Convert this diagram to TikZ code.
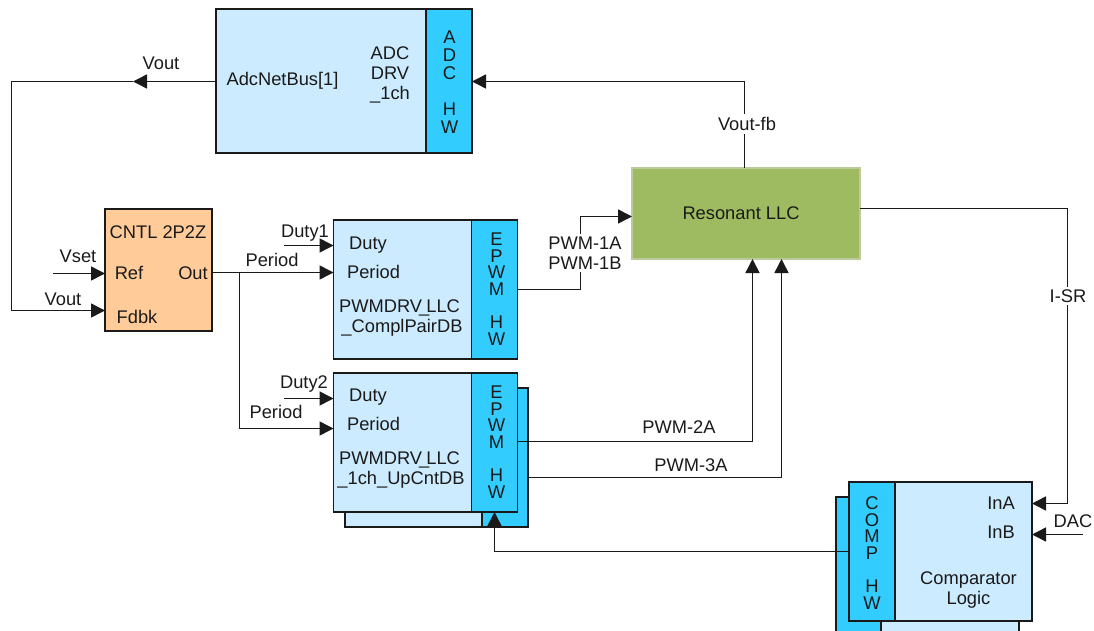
\documentclass[tikz,border=0pt]{standalone}
\usepackage{fontspec}
\setmainfont{Liberation Sans}
\usetikzlibrary{arrows.meta}
\definecolor{lightb}{HTML}{CCEBFF}
\definecolor{hwb}{HTML}{33CCFF}
\definecolor{orangeb}{HTML}{FFCC99}
\definecolor{greenb}{HTML}{9FBB62}
\definecolor{greenedge}{HTML}{BCCB9C}
\definecolor{ink}{HTML}{1A1A1A}
\newcommand{\under}{\kern-3pt\_\kern-3pt}
\tikzset{
  block/.style={draw=ink,line width=1.6pt,anchor=north west,inner sep=0pt,outer sep=0pt},
  drvbox/.style={block,fill=lightb},
  hwbox/.style={block,fill=hwb},
  ctlbox/.style={block,fill=orangeb},
  plant/.style={draw=greenedge,line width=1.5pt,fill=greenb,anchor=north west,inner sep=0pt,outer sep=0pt},
  txt/.style={font=\fontsize{18.3}{20}\selectfont,text=ink,inner sep=0pt,align=center},
  gaptxt/.style={txt,fill=white,inner xsep=2pt,inner ysep=3pt},
  letters/.style={font=\fontsize{18.4}{16.6}\selectfont,text=ink,inner sep=0pt,align=center},
  wire/.style={draw=ink,line width=1.5pt},
  sig/.style={wire,-{Triangle[length=14pt,width=14pt]}},
}
\begin{document}
\begin{tikzpicture}[x=1pt,y=-1pt]
\clip (0,0) rectangle (1094,631);
% ADC
\node[drvbox,minimum width=210pt,minimum height=144pt] (adc) at (216,9) {};
\node[hwbox,minimum width=46pt,minimum height=144pt] (adchw) at (426,9) {};
\node[txt] (adclabel) at (282.5,81) {AdcNetBus[1]};
\node[txt] (adcname) at (390,75) {ADC\\DRV\\\_1ch};
\node[letters,font=\fontsize{18.4}{18}\selectfont] (adcletters) at (449.5,82) {A\\D\\C\\[18pt]H\\W};
% Controller
\node[ctlbox,minimum width=107pt,minimum height=122pt] (cntl) at (105,209) {};
\node[txt] (cntlname) at (158,232) {CNTL 2P2Z};
\node[txt] (cntlref) at (129,273) {Ref};
\node[txt] (cntlout) at (193,273) {Out};
\node[txt] (cntlfdbk) at (137,317) {Fdbk};
% PWM 1
\node[drvbox,minimum width=138pt,minimum height=139pt] (pwmone) at (333.5,220) {};
\node[hwbox,minimum width=46pt,minimum height=139pt] (pwmonehw) at (471.5,220) {};
\node[txt] (pwmoneduty) at (368,245) {Duty};
\node[txt] (pwmoneperiod) at (373.5,272) {Period};
\node[txt] (pwmonename) at (402,318) {\kern-5pt PWMDRV\under LLC\\\_ComplPairDB};
\node[letters] (pwmoneletters) at (496.5,289) {E\\P\\W\\M\\[16.6pt]H\\W};
% PWM 2 stack
\node[drvbox,minimum width=137pt,minimum height=139pt] (pwmback) at (345,388) {};
\node[hwbox,minimum width=46pt,minimum height=139pt] (pwmbackhw) at (482,388) {};
\node[drvbox,minimum width=138pt,minimum height=139pt] (pwmtwo) at (333.5,373) {};
\node[hwbox,minimum width=46pt,minimum height=139pt] (pwmtwohw) at (471.5,373) {};
\node[txt] (pwmtwoduty) at (368,397) {Duty};
\node[txt] (pwmtwoperiod) at (373.5,424) {Period};
\node[txt] (pwmtwoname) at (401,470) {\kern-3pt PWMDRV\under LLC\\\_1ch\_UpCntDB};
\node[letters] (pwmtwoletters) at (496.5,442) {E\\P\\W\\M\\[16.6pt]H\\W};
% Resonant
\node[plant,minimum width=228pt,minimum height=91pt] (llc) at (632,168) {};
\node[txt] (llcname) at (741,213) {Resonant LLC};
% Comparator stack
\node[hwbox,minimum width=45pt,minimum height=150pt] (compbackhw) at (836,497) {};
\node[drvbox,minimum width=138pt,minimum height=150pt] (compback) at (881,497) {};
\node[hwbox,minimum width=46pt,minimum height=139pt] (comphw) at (849,482) {};
\node[drvbox,minimum width=137pt,minimum height=139pt] (comp) at (895,482) {};
\node[letters] (completters) at (872,553) {C\\O\\M\\P\\[16.6pt]H\\W};
\node[txt] (compina) at (1001,503) {InA};
\node[txt] (compinb) at (1001,532) {InB};
\node[txt] (compname) at (968.5,590) {Comparator\\Logic};
% free ends, bends and ports
\coordinate (fbstart) at (744.5,168);
\coordinate (adcinport) at (472,81.5);
\coordinate (vsetfree) at (53,273.5);
\coordinate (dutyonefree) at (284,245.5);
\coordinate (dutytwofree) at (284,398.5);
\coordinate (dacfree) at (1083,534.5);
\coordinate (voutmid) at (133,81.5);
\coordinate (voutcorner) at (11.5,81.5);
\coordinate (fdbkport) at (105,310.5);
\coordinate (refport) at (105,273.5);
\coordinate (outport) at (212,272.5);
\coordinate (branch) at (239.5,272.5);
\coordinate (pwmoneperiodport) at (333.5,272.5);
\coordinate (pwmonedutyport) at (333.5,245.5);
\coordinate (pwmtwoperiodport) at (333.5,428.5);
\coordinate (pwmtwodutyport) at (333.5,398.5);
\coordinate (pwmonebend) at (580.5,289.5);
\coordinate (llcinport) at (632,216.5);
\coordinate (pwmtwoa) at (517,441.5);
\coordinate (pwmthreea) at (528,477.5);
\coordinate (llcbotone) at (752.5,259);
\coordinate (llcbottwo) at (781.5,259);
\coordinate (llcout) at (860,208.5);
\coordinate (isrcorner) at (1067.5,208.5);
\coordinate (inaport) at (1032,503.5);
\coordinate (inbport) at (1032,534.5);
\coordinate (compout) at (849,551.5);
\coordinate (tripport) at (494.5,512);
% connectors
\draw[sig] (fbstart) |- (adcinport);
\draw[sig] (adc.west |- voutmid) -- (voutmid);
\draw[sig] (voutmid) -- (voutcorner) |- (fdbkport);
\draw[sig] (vsetfree) -- (refport);
\draw[sig] (outport) -- (pwmoneperiodport);
\draw[sig] (branch) |- (pwmtwoperiodport);
\draw[sig] (dutyonefree) -- (pwmonedutyport);
\draw[sig] (dutytwofree) -- (pwmtwodutyport);
\draw[sig] (pwmonehw.east |- pwmonebend) -- (pwmonebend) |- (llcinport);
\draw[sig] (pwmtwoa) -| (llcbotone);
\draw[sig] (pwmthreea) -| (llcbottwo);
\draw[sig] (llcout) -- (isrcorner) |- (inaport);
\draw[sig] (dacfree) -- (inbport);
\draw[sig] (compout) -| (tripport);
% connector labels
\node[gaptxt] (fblabel) at (747,124) {Vout-fb};
\node[txt] (voutlabel) at (161,63) {Vout};
\node[txt] (vsetlabel) at (78,256) {Vset};
\node[txt] (voutlabeltwo) at (63,299) {Vout};
\node[txt] (dutyonelabel) at (305,233) {Duty1};
\node[txt] (periodonelabel) at (272,260) {Period};
\node[txt] (dutytwolabel) at (304,384) {Duty2};
\node[txt] (periodtwolabel) at (276,412) {Period};
\node[gaptxt] (pwmonelabel) at (585,253) {PWM-1A\\PWM-1B};
\node[txt] (pwmtwolabel) at (679,427) {PWM-2A};
\node[txt] (pwmthreelabel) at (691,465) {PWM-3A};
\node[gaptxt] (isrlabel) at (1068,296) {I-SR};
\node[txt] (daclabel) at (1073,521) {DAC};
\end{tikzpicture}
\end{document}
